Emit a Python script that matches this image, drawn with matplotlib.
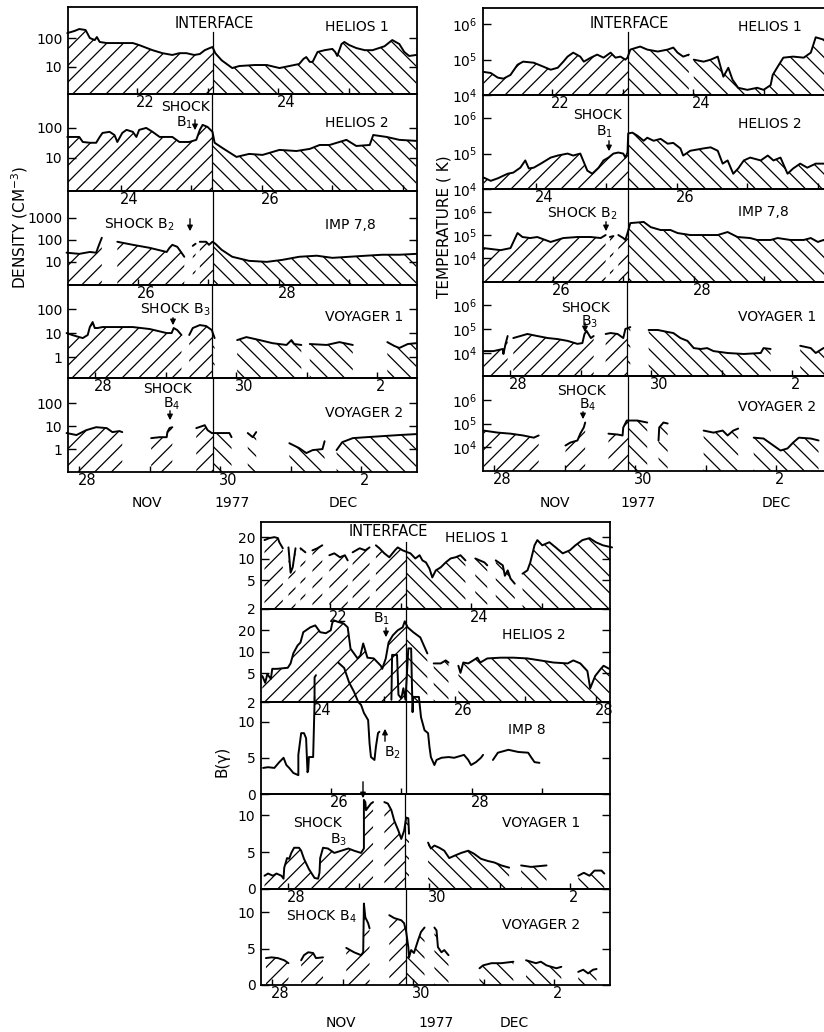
import numpy as np
import matplotlib.pyplot as plt
from matplotlib.patches import Rectangle, FancyArrowPatch
from matplotlib.ticker import NullLocator

plt.rcParams['font.family'] = ['DejaVu Sans']
plt.rcParams['hatch.linewidth'] = 0.9
plt.rcParams['axes.linewidth'] = 1.3

NAN = np.nan

# day of Nov 1977 (Dec 1 = 31, Dec 2 = 32); interface arrival per spacecraft
CRAFT = ['HELIOS 1', 'HELIOS 2', 'IMP 7,8', 'VOYAGER 1', 'VOYAGER 2']
CRAFT_B = ['HELIOS 1', 'HELIOS 2', 'IMP 8', 'VOYAGER 1', 'VOYAGER 2']
INTERFACE_DAY = [23.07, 25.3, 27.06, 29.66, 29.89]

# ---- density (cm^-3) ----
DENS_H1_DAY = [21.01, 21.11, 21.18, 21.27, 21.33, 21.40, 21.43, 21.47, 21.57, 21.75, 21.94, 22.03, 22.22,
               22.36, 22.50, 22.60, 22.70, 22.81, 22.89, 22.96, 23.03, 23.07, 23.11, 23.20, 23.35, 23.45,
               23.67, 23.84, 24.02, 24.16, 24.30, 24.36, 24.40, 24.45, 24.49, 24.56, 24.66, 24.77, 24.81,
               24.84, 24.90, 24.94, 25.01, 25.11, 25.23, 25.34, 25.51, 25.62, 25.72, 25.79, 25.86, 25.96]
DENS_H1_VAL = [148, 174, 204, 189, 100, 85, 108, 73, 67, 67, 67, 57, 38, 30, 26, 30, 30, 26, 28, 38, 45, 49,
               30, 17, 9.2, 10.8, 11.7, 11.7, 9.2, 10.8, 12.7, 19, 22, 15, 15, 33, 38, 42, 33, 24, 62, 73,
               57, 45, 38, 38, 52, 85, 62, 33, 24, 26]

DENS_H2_DAY = [23.24, 23.41, 23.46, 23.56, 23.65, 23.70, 23.74, 23.84, 23.91, 23.95, 24.02, 24.08, 24.17,
               24.22, 24.26, 24.36, 24.45, 24.55, 24.73, 24.83, 24.97, 25.07, 25.12, 25.16, 25.23, 25.30,
               25.33, 25.44, 25.64, 25.82, 26.01, 26.25, 26.49, 26.68, 26.82, 26.96, 27.20, 27.34, 27.53,
               27.58, 27.77, 27.95, 28.19]
DENS_H2_VAL = [50, 50, 34, 32, 32, 50, 68, 74, 58, 34, 68, 86, 74, 50, 86, 100, 74, 50, 50, 34, 34, 40, 86,
               126, 108, 74, 32, 21.5, 10.8, 13.6, 12.6, 18.5, 17, 20, 27, 27, 40, 25, 27, 58, 50, 40, 37]

DENS_IMP_DAY = [24.99, 25.17, 25.32, 25.41, 25.44, 25.49, NAN,
                25.71, 25.93, 26.17, 26.41, 26.45, 26.49, 26.56, 26.62, 26.66, NAN,
                26.78, 26.82, NAN,
                26.88, 26.97, 27.01, 27.06, 27.10, 27.19, 27.34, 27.58, 27.83, 28.05, 28.29, 28.54, 28.76,
                29.00, 29.24, 29.47, 29.71, 29.95]
DENS_IMP_VAL = [26, 23, 28, 26, 48, 123, NAN,
                81, 59, 43, 28, 43, 59, 48, 26, 17, NAN,
                53, 66, NAN,
                81, 81, 59, 81, 66, 35, 17, 11.1, 10, 12.3, 17, 19, 15.2, 17, 19, 21, 21, 23]

DENS_V1_DAY = [27.59, 27.67, 27.77, 27.82, 27.89, 27.92, 27.96, 27.99, 28.03, 28.10, 28.34, 28.53, 28.77,
               29.01, 29.08, 29.11, 29.16, 29.22, NAN,
               29.33, 29.38, 29.48, 29.57, 29.65, 29.69, NAN,
               30.01, 30.14, 30.33, 30.51, 30.71, 30.78, 30.82, 30.92, NAN,
               31.04, 31.28, 31.46, 31.65, NAN,
               32.14, 32.24, 32.31, 32.43, 32.55]
DENS_V1_VAL = [10, 8.3, 6.8, 6.2, 8.3, 17.8, 28.7, 16.2, 16.2, 17.8, 17.8, 17.8, 14.7, 10, 10, 16.2, 13.3,
               8.3, NAN,
               8.3, 16.2, 21.5, 19.6, 13.3, 6.2, NAN,
               5.1, 6.8, 5.1, 3.8, 3.2, 5.1, 3.5, 3.2, NAN,
               3.5, 3.2, 4.2, 3.2, NAN,
               4.2, 2.9, 2.4, 3.5, 3.8]

DENS_V2_DAY = [27.82, 27.96, 28.10, 28.24, 28.39, 28.47, 28.57, 28.61, NAN,
               29.02, 29.14, 29.24, 29.25, 29.28, 29.32, NAN,
               29.66, 29.78, 29.82, 29.88, 29.99, 30.13, 30.16, NAN,
               30.39, 30.46, 30.51, NAN,
               30.98, 31.12, 31.22, 31.31, 31.45, 31.48, NAN,
               31.65, 31.73, 31.88, 32.07, 32.26, 32.54, 32.78]
DENS_V2_VAL = [5.0, 4.1, 6.7, 9, 8.2, 5.5, 6.1, 5.5, NAN,
               3.0, 3.3, 3.3, 5.5, 8.2, 9, NAN,
               8.2, 11, 6.7, 5.0, 5.0, 5.0, 3.3, NAN,
               5.0, 3.3, 5.5, NAN,
               1.8, 1.1, 0.67, 0.9, 1.0, 2.2, NAN,
               0.9, 2.0, 3.0, 3.3, 3.6, 4.1, 4.5]

# ---- temperature (K) ----
TEMP_H1_DAY = [21.03, 21.13, 21.23, 21.31, 21.41, 21.51, 21.59, 21.74, 21.88, 21.98, 22.08, 22.16, 22.22,
               22.30, 22.40, 22.45, 22.55, 22.64, 22.73, 22.83, 22.90, 22.97, 23.04, 23.07, 23.11, 23.25,
               23.35, 23.50, 23.64, 23.72, 23.78, 23.86, 23.94, NAN,
               24.01, 24.15, 24.25, 24.35, 24.39, 24.43, 24.50, 24.56, 24.64, 24.77, 24.91, 25.00, 25.10,
               25.13, 25.20, 25.28, 25.42, 25.57, 25.67, 25.74, 25.85, 25.98]
TEMP_H1_VAL = [4.5e4, 4.2e4, 3.1e4, 2.9e4, 3.7e4, 7.2e4, 8.8e4, 8.2e4, 6.3e4, 5.2e4, 5.9e4, 8.8e4, 1.22e5,
               1.58e5, 1.22e5, 8.8e4, 1.14e5, 1.39e5, 1.14e5, 1.58e5, 1.14e5, 1.22e5, 1e5, 1.14e5, 1.93e5,
               2.35e5, 1.93e5, 1.7e5, 1.93e5, 2.2e5, 1.58e5, 1.22e5, 1.39e5, NAN,
               1e5, 8.8e4, 1e5, 1.22e5, 6.3e4, 3.3e4, 5.9e4, 2.7e4, 1.6e4, 1.4e4, 1.6e4, 1.4e4, 1.9e4,
               3.7e4, 6.3e4, 1.14e5, 1.22e5, 1.14e5, 1.58e5, 4.3e5, 3.7e5, 3.3e5]

TEMP_H2_DAY = [23.26, 23.36, 23.46, 23.60, 23.68, 23.78, 23.85, 23.90, 23.97, 24.07, 24.21, 24.31, 24.45,
               24.53, 24.63, 24.73, 24.80, 24.89, 24.96, 25.03, 25.10, 25.17, 25.24, 25.27, 25.30, 25.31,
               25.37, 25.44, 25.53, 25.58, 25.67, 25.77, 25.87, 25.95, 26.05, 26.09, 26.19, 26.38, 26.48,
               26.58, 26.65, 26.72, 26.80, 26.87, 26.95, 27.04, 27.19, 27.29, 27.37, 27.47, 27.57, 27.65,
               27.75, 27.85, 27.97, 28.08, 28.21]
TEMP_H2_VAL = [2.1e4, 1.7e4, 2.0e4, 2.7e4, 2.9e4, 4.0e4, 6.4e4, 3.8e4, 4.0e4, 5.2e4, 7.7e4, 8.8e4, 1e5,
               8.8e4, 1e5, 3.3e4, 2.7e4, 4.0e4, 6.4e4, 7.7e4, 1e5, 1.07e5, 1e5, 7.7e4, 1.07e5, 3.7e5, 3.9e5,
               3.2e5, 2.3e5, 2.8e5, 2.3e5, 2.6e5, 1.9e5, 2.0e5, 1.4e5, 8.8e4, 1.2e5, 1.4e5, 1.5e5, 1.2e5,
               5.2e4, 6.4e4, 2.7e4, 3.8e4, 6.4e4, 7.7e4, 6.4e4, 8.8e4, 6.4e4, 7.7e4, 2.7e4, 3.8e4, 5.2e4,
               4.0e4, 5.2e4, 5.2e4, 4.6e4]

TEMP_IMP_DAY = [25.02, 25.26, 25.40, 25.50, 25.57, 25.68, 25.78, 25.97, 26.15, 26.35, 26.54, 26.68, 26.75, NAN,
                26.81, 26.86, NAN,
                26.93, 27.00, 27.03, 27.06, 27.10, 27.29, 27.39, 27.53, 27.67, 27.77, 27.95, 28.14, 28.34,
                28.48, 28.62, 28.80, 28.90, 29.09, 29.19, 29.37, 29.56, 29.66, 29.76, 29.84, 29.97]
TEMP_IMP_VAL = [2.7e4, 2.2e4, 2.7e4, 1.22e5, 8.2e4, 7.4e4, 8.2e4, 5.0e4, 7.4e4, 8.2e4, 8.2e4, 7.4e4, 1e5, NAN,
                8.2e4, 9e4, NAN,
                1e5, 7.4e4, 6.1e4, 1.22e5, 3.3e5, 3.7e5, 2.2e5, 1.65e5, 1.65e5, 1.22e5, 1e5, 1e5, 1e5,
                1.35e5, 8.2e4, 7.4e4, 6.1e4, 6.1e4, 7.4e4, 6.1e4, 6.1e4, 7.4e4, 5.0e4, 6.1e4, 5.5e4]

TEMP_V1_DAY = [27.62, 27.76, 27.89, 27.90, 27.93, 27.96, NAN,
               28.04, 28.14, 28.24, 28.38, 28.53, 28.67, 28.81, 28.95, 29.02, 29.05, 29.08, 29.14, 29.18, NAN,
               29.35, 29.42, 29.52, 29.60, 29.63, 29.70, NAN,
               29.96, 30.09, 30.23, 30.31, 30.41, 30.51, 30.60, 30.70, 30.79, 30.88, 31.08, 31.31, 31.55,
               31.59, 31.69, NAN,
               32.11, 32.26, 32.33, 32.44, 32.57]
TEMP_V1_VAL = [1.2e4, 1.2e4, 1.47e4, 9.1e3, 2.4e4, 5.1e4, NAN,
               4.2e4, 5.1e4, 6.2e4, 5.1e4, 4.2e4, 3.8e4, 3.2e4, 2.4e4, 2.6e4, 6.2e4, 8.3e4, 4.2e4, 5.1e4, NAN,
               6.2e4, 6.8e4, 6.2e4, 4.2e4, 1e5, 1.2e5, NAN,
               9.1e4, 9.1e4, 7.5e4, 6.8e4, 4.2e4, 3.2e4, 1.6e4, 1.47e4, 1.6e4, 1.2e4, 1.0e4, 9.1e3, 1.0e4,
               1.6e4, 1.47e4, NAN,
               2.0e4, 1.6e4, 1.0e4, 1.6e4, 1.8e4]

TEMP_V2_DAY = [27.85, 28.05, 28.23, 28.41, 28.56, 28.63, NAN,
               29.01, 29.08, 29.18, 29.22, 29.27, 29.29, NAN,
               29.62, 29.75, 29.82, 29.83, 29.88, 29.89, 30.03, 30.17, NAN,
               30.33, 30.34, 30.40, 30.46, NAN,
               30.97, 31.11, 31.24, 31.31, 31.39, 31.46, NAN,
               31.68, 31.82, 31.96, 32.06, 32.16, 32.24, 32.32, 32.49, 32.60]
TEMP_V2_VAL = [5.0e4, 4.1e4, 3.7e4, 3.1e4, 2.5e4, 3.1e4, NAN,
               1.16e4, 1.55e4, 1.9e4, 3.7e4, 6.8e4, 1.1e5, NAN,
               3.7e4, 3.4e4, 3.1e4, 6.8e4, 1.34e5, 1.34e5, 1.34e5, 1.1e5, NAN,
               1.9e4, 6.8e4, 1.1e5, 1e5, NAN,
               5.0e4, 4.1e4, 5.0e4, 3.1e4, 5.0e4, 6.1e4, NAN,
               2.5e4, 2.3e4, 1.16e4, 7.1e3, 8.7e3, 1.55e4, 2.5e4, 2.3e4, 1.9e4]

# ---- magnetic field (gamma) ----
B_H1_DAY = [21.07, 21.14, 21.21, 21.26, 21.28, 21.33, NAN,
            21.41, 21.44, 21.47, 21.51, NAN,
            21.58, 21.65, NAN,
            21.75, 21.82, 21.89, NAN,
            21.99, 22.06, 22.14, 22.21, 22.25, NAN,
            22.32, 22.42, 22.50, 22.56, NAN,
            22.65, 22.70, 22.77, 22.84, 22.92, 22.96, 23.03, 23.10, 23.14, 23.21, 23.27, 23.31, 23.36,
            23.41, 23.45, 23.50, 23.57, 23.64, 23.71, 23.78, 23.85, 23.92, NAN,
            24.06, 24.19, 24.23, NAN,
            24.35, 24.45, 24.48, 24.52, 24.56, 24.62, NAN,
            24.73, 24.80, 24.84, 24.90, 24.94, 25.01, 25.11, 25.20, 25.30, 25.40, 25.48, 25.58, 25.68,
            25.77, 25.87, 26.00]
B_H1_VAL = [18.2, 19.4, 20, 19.4, 17.0, 14.0, NAN,
            14.4, 6.4, 7.6, 14.0, NAN,
            14.0, 12.3, NAN,
            13.1, 14.0, 15.4, NAN,
            11.2, 11.9, 10.5, 11.2, 9.5, NAN,
            12.3, 14.0, 13.1, 14.4, NAN,
            15.4, 14.0, 11.9, 10.5, 13.1, 14.4, 13.1, 12.3, 11.9, 10.1, 11.2, 9.5, 8.9, 7.3, 5.5, 6.9,
            7.6, 8.9, 10.1, 10.5, 11.2, 9.5, NAN,
            10.1, 8.9, 8.1, NAN,
            9.5, 8.1, 5.8, 6.9, 5.3, 4.5, NAN,
            6.2, 6.9, 8.9, 15.4, 18.2, 15.4, 17.0, 14.4, 11.9, 13.1, 15.4, 18.2, 19.4, 17.0, 15.4, 14.4]

B_H2_DAY = [23.27, 23.31, 23.34, 23.39, 23.41, 23.48, 23.63, 23.67, 23.71, 23.77, 23.81, 23.85, 23.95,
            24.02, 24.09, 24.17, 24.24, 24.26, 24.28, 24.35, 24.42, 24.48, 24.52, 24.62, 24.66, 24.70,
            24.76, 24.85, 24.95, 24.97, 25.02, 25.06, 25.12, 25.19, 25.26, 25.29, 25.33, 25.41, 25.51,
            25.61, NAN,
            25.70, 25.80, 25.87, 25.91, NAN,
            26.05, 26.08, 26.12, 26.19, 26.26, 26.32, 26.36, 26.46, 26.65, 26.83, 27.03, 27.21, 27.40,
            27.60, 27.68, 27.78, 27.88, 27.92, 27.99, 28.07, 28.11, 28.19]
B_H2_VAL = [4.6, 3.7, 4.9, 4.2, 5.8, 5.8, 6.0, 6.9, 9.6, 12.3, 13.5, 18.8, 22.0, 23.4, 18.8, 18.2, 20.0,
            25.0, 27.6, 26.0, 25.0, 22.0, 11.1, 8.1, 8.9, 13.1, 8.3, 8.1, 6.4, 5.8, 8.1, 13.5, 17.0, 20.0,
            22.0, 26.7, 22.0, 18.8, 15.9, 9.5, NAN,
            6.9, 6.9, 7.6, 7.1, NAN,
            6.4, 5.1, 7.1, 6.9, 7.6, 8.3, 7.1, 8.1, 8.3, 8.3, 8.1, 7.6, 7.1, 6.9, 7.6, 6.9, 5.4, 3.1, 4.6,
            5.8, 6.4, 5.8]

B_IMP_DAY = [25.04, 25.11, 25.20, 25.27, 25.33, 25.37, 25.41, 25.47, 25.54, 25.54, 25.58, 25.62, 25.65,
             25.67, 25.68, 25.69, 25.75, 25.77, 25.77, 25.79, NAN,
             26.11, 26.19, 26.26, 26.33, 26.39, 26.43, 26.47, 26.53, 26.55, 26.57, 26.62, 26.64, 26.67,
             26.69, NAN,
             26.86, 26.87, 26.94, 26.96, 27.00, 27.03, 27.06, 27.10, 27.14, 27.16, 27.17, 27.25, 27.28,
             27.33, 27.38, 27.40, 27.42, 27.47, 27.50, 27.57, 27.67, 27.75, 27.89, 27.95, 27.99, 28.06,
             28.13, 28.16, NAN,
             28.30, 28.37, 28.52, 28.66, 28.80, 28.84, 28.89, 28.96]
B_IMP_VAL = [3.6, 3.7, 3.6, 4.4, 5.0, 4.0, 3.6, 2.9, 2.6, 5.4, 8.4, 8.4, 7.7, 3.0, 3.3, 5.1, 5.1, 12.6,
             16.1, 16.4, NAN,
             18.1, 17.4, 15.4, 14.1, 12.7, 12.3, 11.2, 10.2, 7.0, 5.1, 4.7, 6.5, 8.4, 8.6, NAN,
             13.0, 19.2, 19.2, 13.7, 13.2, 14.6, 13.0, 20.1, 20.1, 11.3, 13.4, 13.4, 10.6, 8.8, 8.4, 6.5,
             5.1, 4.0, 4.7, 5.0, 5.1, 5.0, 5.4, 4.7, 4.0, 4.4, 5.0, 5.4, NAN,
             4.7, 5.7, 6.1, 5.8, 5.7, 5.1, 4.4, 4.3]

B_V1_DAY = [27.66, 27.71, 27.78, 27.83, 27.90, 27.93, 27.94, 27.98, 28.01, 28.04, 28.08, 28.15, 28.18,
            28.22, 28.29, 28.37, 28.42, 28.44, 28.45, 28.49, 28.56, 28.65, 28.75, 28.85, 28.93, 29.03,
            29.07, 29.07, 29.09, 29.10, 29.13, 29.17, 29.20, NAN,
            29.36, 29.41, 29.46, 29.50, 29.56, 29.60, 29.64, 29.67, 29.70, 29.71, NAN,
            29.98, 30.02, 30.07, 30.14, 30.21, 30.28, 30.35, 30.45, 30.55, 30.63, 30.73, 30.83, 30.92,
            31.02, 31.13, NAN,
            31.30, 31.44, 31.66, NAN,
            32.11, 32.19, 32.27, 32.34, 32.44, 32.48]
B_V1_VAL = [1.8, 2.1, 1.8, 2.1, 1.8, 1.4, 2.9, 4.2, 4.1, 4.9, 5.6, 5.6, 5.2, 4.1, 2.7, 1.5, 1.4, 2.2, 4.2,
            5.6, 5.5, 4.9, 5.2, 5.5, 5.2, 4.9, 5.5, 12.1, 11.8, 10.7, 11.1, 11.6, 11.8, NAN,
            11.8, 11.6, 10.7, 9.3, 7.9, 6.8, 7.9, 9.7, 9.6, 7.5, NAN,
            6.3, 5.5, 5.9, 5.6, 5.2, 4.2, 4.5, 4.9, 5.2, 4.8, 4.1, 3.8, 3.6, 3.2, 2.9, NAN,
            3.2, 3.0, 3.2, NAN,
            1.8, 2.2, 1.8, 2.5, 2.5, 2.1]

B_V2_DAY = [27.91, 27.99, 28.08, 28.17, 28.23, NAN,
            28.41, 28.45, 28.51, 28.58, 28.62, 28.72, NAN,
            29.05, 29.16, 29.26, 29.29, 29.30, 29.32, 29.36, 29.38, NAN,
            29.66, 29.73, 29.83, 29.87, 29.90, 29.93, 29.94, 29.97, 30.01, 30.07, 30.11, 30.16, NAN,
            30.30, 30.33, 30.35, 30.40, 30.44, 30.50, NAN,
            30.94, 30.99, 31.11, 31.25, 31.42, NAN,
            31.60, 31.67, 31.74, 31.81, 31.89, 31.96, 32.03, 32.10, NAN,
            32.34, 32.41, 32.48, 32.55, 32.60]
B_V2_VAL = [3.7, 3.8, 3.7, 3.4, 3.0, NAN,
            3.4, 4.1, 4.5, 4.4, 3.7, 3.8, NAN,
            5.1, 4.5, 4.1, 4.5, 11.2, 9.3, 8.5, 7.8, NAN,
            9.6, 9.2, 8.9, 8.5, 7.3, 5.2, 3.8, 4.8, 4.4, 6.2, 7.3, 7.9, NAN,
            7.9, 7.5, 5.2, 4.5, 4.8, 4.1, NAN,
            2.3, 2.7, 3.0, 3.0, 3.2, NAN,
            3.4, 3.2, 3.0, 3.2, 2.7, 2.5, 2.3, 2.5, NAN,
            1.8, 2.1, 1.6, 2.1, 2.2]

# axis settings per panel
DENS_YLIM = [(1.17, 1175), (0.79, 1350), (0.9, 1.6e4), (0.135, 1000), (0.1, 1260)]
DENS_YTICKS = [[10, 100], [10, 100], [10, 100, 1000], [1, 10, 100], [1, 10, 100]]
TEMP_YLIM = [(1e4, 2.9e6), (1e4, 4.5e6), (910, 1e7), (1100, 9.1e6), (955, 1.05e7)]
TEMP_YTICKS = [[1e4, 1e5, 1e6]] * 5
B_YLIM = [(2, 32.5), (2, 39.6), (0, 12.7), (0, 12.9), (0, 13.2)]
B_YTICKS = [[2, 5, 10, 20], [2, 5, 10, 20], [0, 5, 10], [0, 5, 10], [0, 5, 10]]
B_LOG = [True, True, False, False, False]
B_HATCH = [True, True, False, True, True]
DAY_LABELS = [[22, 24], [24, 26], [26, 28], [28, 30, 32], [28, 30, 32]]
DAY_LABELS_B = [[22, 24], [24, 26, 28], [26, 28], [28, 30, 32], [28, 30, 32]]

# ---- layout (pixels) ----
W, H = 824, 1032
PANEL_W = 349
PX_PER_DAY = 70.5
IFACE_PX = 144.5

fig = plt.figure(figsize=(W / 100, H / 100), dpi=100)


def px(x, y):
    return x / W, 1 - y / H


def segments(days, vals):
    d = np.asarray(days, float)
    v = np.asarray(vals, float)
    start = 0
    for b in list(np.where(np.isnan(d))[0]) + [len(d)]:
        if b > start:
            yield d[start:b], v[start:b]
        start = b + 1


def day_label(day):
    return str(day - 30 if day > 30 else day)


def make_panel(left, top, bottom, t_int, ylim, yticks, ylabels, log, day_labels):
    ax = fig.add_axes([left / W, 1 - bottom / H, PANEL_W / W, (bottom - top) / H])
    ax.set_facecolor('none')
    x0 = t_int - IFACE_PX / PX_PER_DAY
    x1 = x0 + PANEL_W / PX_PER_DAY
    ax.set_xlim(x0, x1)
    if log:
        ax.set_yscale('log')
    ax.set_ylim(*ylim)
    ax.set_yticks(yticks)
    ax.set_yticklabels(ylabels)
    ax.set_xticks(np.arange(np.ceil(x0), x1))
    ax.set_xticklabels([])
    ax.xaxis.set_minor_locator(NullLocator())
    ax.yaxis.set_minor_locator(NullLocator())
    ax.tick_params(axis='x', direction='in', length=4, width=1)
    ax.tick_params(axis='y', direction='in', length=6, width=1, left=True, right=True,
                   labelsize=10, pad=4)
    for d in day_labels:
        ax.annotate(day_label(d), xy=(d, 0), xycoords=('data', 'axes fraction'),
                    xytext=(-1, -1), textcoords='offset points', ha='left', va='top',
                    fontsize=10.5, annotation_clip=False)
    return ax


def draw_trace(ax, days, vals, t_int, hatch):
    x0, x1 = ax.get_xlim()
    base = ax.get_ylim()[0]
    for d, v in segments(days, vals):
        if hatch:
            for xa, xb, pat in ((x0, t_int, '//'), (t_int, x1, '\\\\')):
                poly = ax.fill_between(d, v, base, facecolor='none', edgecolor='k',
                                       linewidth=0, hatch=pat)
                poly.set_clip_path(Rectangle((xa, 0), xb - xa, 1,
                                             transform=ax.get_xaxis_transform()))
        ax.plot(d, v, color='k', lw=1.4, clip_on=False,
                solid_joinstyle='round', solid_capstyle='round')


def build_column(left, edges, series, ylims, yticks, ylabels, logs, hatches, day_labels, iface_top):
    axes = []
    for i in range(5):
        t = INTERFACE_DAY[i]
        ax = make_panel(left, edges[i], edges[i + 1], t, ylims[i], yticks[i], ylabels[i],
                        logs[i], day_labels[i])
        ax.axvline(t, ymax=iface_top if i == 0 else 1, color='k', lw=0.9)
        draw_trace(ax, series[i][0], series[i][1], t, hatches[i])
        axes.append(ax)
    return axes


def text(x, y, s, size=10, **kw):
    kw.setdefault('ha', 'center')
    fig.text(*px(x, y), s, fontsize=size, va='center', **kw)


def arrow(x, y0, y1):
    fig.add_artist(FancyArrowPatch(px(x, y0), px(x, y1), transform=fig.transFigure,
                                   arrowstyle='-|>', mutation_scale=8, lw=1.0, color='k'))


# density column
dens_series = [(DENS_H1_DAY, DENS_H1_VAL), (DENS_H2_DAY, DENS_H2_VAL), (DENS_IMP_DAY, DENS_IMP_VAL),
               (DENS_V1_DAY, DENS_V1_VAL), (DENS_V2_DAY, DENS_V2_VAL)]
build_column(68, [7, 94, 191, 285, 378, 472], dens_series, DENS_YLIM, DENS_YTICKS,
             [[f'{t:g}' for t in tk] for tk in DENS_YTICKS], [True] * 5, [True] * 5,
             DAY_LABELS, 0.71)

# temperature column
temp_series = [(TEMP_H1_DAY, TEMP_H1_VAL), (TEMP_H2_DAY, TEMP_H2_VAL), (TEMP_IMP_DAY, TEMP_IMP_VAL),
               (TEMP_V1_DAY, TEMP_V1_VAL), (TEMP_V2_DAY, TEMP_V2_VAL)]
build_column(483, [8, 95, 189, 282, 376, 471], temp_series, TEMP_YLIM, TEMP_YTICKS,
             [[r'10$^{%d}$' % round(np.log10(t)) for t in tk] for tk in TEMP_YTICKS],
             [True] * 5, [True] * 5, DAY_LABELS, 0.72)

# field column
b_series = [(B_H1_DAY, B_H1_VAL), (B_H2_DAY, B_H2_VAL), (B_IMP_DAY, B_IMP_VAL),
            (B_V1_DAY, B_V1_VAL), (B_V2_DAY, B_V2_VAL)]
build_column(261, [522, 609, 702, 794, 889, 985], b_series, B_YLIM, B_YTICKS,
             [[f'{t:g}' for t in tk] for tk in B_YTICKS], B_LOG, B_HATCH, DAY_LABELS_B, 0.77)

# panel names
for name, y in zip(CRAFT, [27, 123, 225, 317, 413]):
    text(325, y, name, ha='left')
for name, y in zip(CRAFT, [27, 124, 212, 317, 407]):
    text(738, y, name, ha='left')
for name, (x, y) in zip(CRAFT_B, [(445, 538), (502, 635), (508, 730), (502, 823), (502, 925)]):
    text(x, y, name, ha='left')

text(214, 24, 'INTERFACE', size=10.5)
text(629, 24, 'INTERFACE', size=10.5)
text(388, 532, 'INTERFACE', size=10.5)

# shock markers
for s, x, y in [('SHOCK', 186, 107), ('B$_1$', 184, 123), ('SHOCK B$_2$', 139, 225),
                ('SHOCK B$_3$', 175, 310), ('SHOCK', 168, 389), ('B$_4$', 172, 404),
                ('SHOCK', 597, 115), ('B$_1$', 604, 132), ('SHOCK B$_2$', 582, 214),
                ('SHOCK', 586, 308), ('B$_3$', 590, 322), ('SHOCK', 582, 391), ('B$_4$', 588, 405),
                ('B$_1$', 381, 619), ('B$_2$', 392, 753), ('SHOCK', 318, 823), ('B$_3$', 339, 840),
                ('SHOCK B$_4$', 321, 917)]:
    text(x, y, s)
for x, y0, y1 in [(195, 117, 133), (190, 216, 234), (173, 315, 328), (170, 408, 423),
                  (609, 138, 154), (606, 219, 234), (585, 320, 335), (583, 409, 422),
                  (386, 625, 640), (385, 744, 726), (363, 779, 801)]:
    arrow(x, y0, y1)

# axis titles and month labels
text(20, 227, 'DENSITY (CM$^{-3}$)', size=11, rotation=90)
text(444, 227, 'TEMPERATURE ( K)', size=11, rotation=90)
text(222, 761, 'B(γ)', size=11, rotation=90)
for x, s in [(147, 'NOV'), (232, '1977'), (343, 'DEC'), (555, 'NOV'), (638, '1977'), (776, 'DEC')]:
    text(x, 503, s)
for x, s in [(341, 'NOV'), (436, '1977'), (514, 'DEC')]:
    text(x, 1023, s)

fig.savefig('out.png', dpi=100)
